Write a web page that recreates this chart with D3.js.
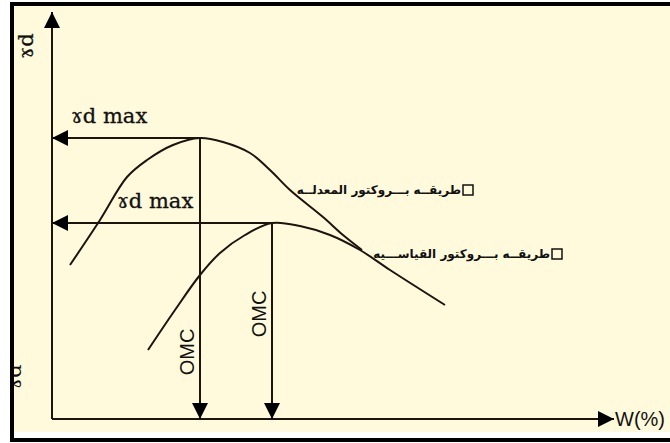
<!DOCTYPE html>
<html>
<head>
<meta charset="utf-8">
<script src="https://cdn.jsdelivr.net/npm/d3@7"></script>
<style>
  html, body { margin: 0; padding: 0; background: #fff; }
  svg { display: block; }
</style>
</head>
<body>
<svg id="chart" width="670" height="443"></svg>
<script>
'use strict';

// water content (%) and dry density (arbitrary units)
const modifiedW = [0.9, 2.4, 3.75, 4.75, 6.05, 7.4, 8.55, 9.9, 10.9, 11.9, 13.55, 14.55, 15.5];
const modifiedG = [7.7, 9.95, 12.1, 12.95, 13.7, 14.05, 13.85, 13.3, 12.45, 11.45, 10.1, 9.2, 8.45];

const standardW = [4.8, 6.15, 7.4, 8.4, 9.65, 11.0, 12.4, 13.9, 15.4, 16.9, 19.65];
const standardG = [3.45, 5.45, 7.2, 8.3, 9.2, 9.8, 9.65, 9.2, 8.45, 7.45, 5.7];

// maxima: [OMC, gamma d max]
const peaks = [[7.4, 14.05], [11.0, 9.8]];

const legendLabels = ['طريقــه بـــروكتور المعدلــه', 'طريقــه بـــروكتور القياســـيه'];
const xLabel = 'W(%)';
const yLabel = 'ɤd';
const maxLabel = 'ɤd max';
const omcLabel = 'OMC';

const ink = '#1c140e';
const cream = '#fffadc';

const svg = d3.select('#chart');

// frame
svg.append('rect').attr('x', 14).attr('y', 6).attr('width', 656).attr('height', 426).attr('fill', cream);

let x = d3.scaleLinear().domain([0, 28]).range([52, 612]);
let y = d3.scaleLinear().domain([0, 20.35]).range([419, 12]);

let defs = svg.append('defs');
defs.append('marker')
  .attr('id', 'head')
  .attr('markerUnits', 'userSpaceOnUse')
  .attr('markerWidth', 16).attr('markerHeight', 16)
  .attr('viewBox', '0 0 16 16')
  .attr('refX', 16).attr('refY', 8)
  .attr('orient', 'auto')
  .append('path')
  .attr('d', 'M0,0L16,8L0,16Z')
  .attr('fill', '#000');

let g = svg.append('g');

// axes
g.append('line')
  .attr('x1', x(0)).attr('y1', y(0)).attr('x2', x(0)).attr('y2', y.range()[1])
  .attr('stroke', ink).attr('stroke-width', 2).attr('marker-end', 'url(#head)');
g.append('line')
  .attr('x1', x(0)).attr('y1', y(0)).attr('x2', x(28.1)).attr('y2', y(0))
  .attr('stroke', ink).attr('stroke-width', 2).attr('marker-end', 'url(#head)');

// curves
let line = d3.line()
  .x(d => x(d[0]))
  .y(d => y(d[1]))
  .curve(d3.curveCatmullRom.alpha(0.5));

[[modifiedW, modifiedG], [standardW, standardG]].forEach(([ws, gs]) => {
  g.append('path')
    .datum(ws.map((w, i) => [w, gs[i]]))
    .attr('d', line)
    .attr('fill', 'none')
    .attr('stroke', ink)
    .attr('stroke-width', 2);
});

// projection arrows from maxima
peaks.forEach(([w, gd]) => {
  g.append('line')
    .attr('x1', x(w)).attr('y1', y(gd)).attr('x2', x(0)).attr('y2', y(gd))
    .attr('stroke', ink).attr('stroke-width', 2).attr('marker-end', 'url(#head)');
  g.append('line')
    .attr('x1', x(w)).attr('y1', y(gd)).attr('x2', x(w)).attr('y2', y(0))
    .attr('stroke', ink).attr('stroke-width', 2).attr('marker-end', 'url(#head)');
});

// labels
let serif = '"DejaVu Serif", serif';
let sans = '"Liberation Sans", Arial, sans-serif';

g.selectAll('.max')
  .data(peaks)
  .join('text')
  .attr('x', (d, i) => i === 0 ? 71 : 117)
  .attr('y', d => y(d[1]) - 15)
  .attr('font-family', serif)
  .attr('font-size', 21)
  .attr('fill', '#111')
  .attr('stroke', '#111').attr('stroke-width', 0.3)
  .text(maxLabel);

g.selectAll('.omc')
  .data(peaks)
  .join('text')
  .attr('transform', (d, i) => `translate(${x(d[0]) - 6},${i === 0 ? 352 : 314}) rotate(-90)`)
  .attr('text-anchor', 'middle')
  .attr('font-family', sans)
  .attr('font-size', 20)
  .attr('fill', '#111')
  .text(omcLabel);

g.append('text')
  .attr('transform', 'translate(33,46) rotate(-90)')
  .attr('text-anchor', 'middle')
  .attr('font-family', serif)
  .attr('font-size', 21)
  .attr('fill', '#111')
  .attr('stroke', '#111').attr('stroke-width', 0.3)
  .text(yLabel);

g.append('text')
  .attr('x', 615).attr('y', 426)
  .attr('font-family', sans)
  .attr('font-size', 20)
  .attr('fill', '#111')
  .text(xLabel);

// legend notes
let notes = [[468, 190], [557, 254]];
legendLabels.forEach((t, i) => {
  let [lx, ly] = notes[i];
  g.append('rect')
    .attr('x', lx - 5).attr('y', ly - 5)
    .attr('width', 10).attr('height', 10)
    .attr('fill', 'none').attr('stroke', '#111').attr('stroke-width', 1.5);
  g.append('text')
    .attr('x', lx - 7).attr('y', ly + 4)
    .attr('text-anchor', 'end')
    .attr('font-family', '"DejaVu Sans", sans-serif')
    .attr('font-weight', 'bold')
    .attr('font-size', 12)
    .attr('fill', '#111')
    .text(t);
});

// glyph half hidden behind the left edge
g.append('text')
  .attr('transform', 'translate(21,377) rotate(-90)')
  .attr('text-anchor', 'middle')
  .attr('font-family', serif)
  .attr('font-size', 21)
  .attr('fill', '#111')
  .text(yLabel);

// black border
svg.append('rect').attr('x', 0).attr('y', 0).attr('width', 14).attr('height', 443).attr('fill', '#fff');
svg.append('rect').attr('x', 10).attr('y', 2).attr('width', 660).attr('height', 4).attr('fill', '#000');
svg.append('rect').attr('x', 10).attr('y', 2).attr('width', 4).attr('height', 440).attr('fill', '#000');
svg.append('rect').attr('x', 10).attr('y', 438).attr('width', 660).attr('height', 4).attr('fill', '#000');
</script>
</body>
</html>
